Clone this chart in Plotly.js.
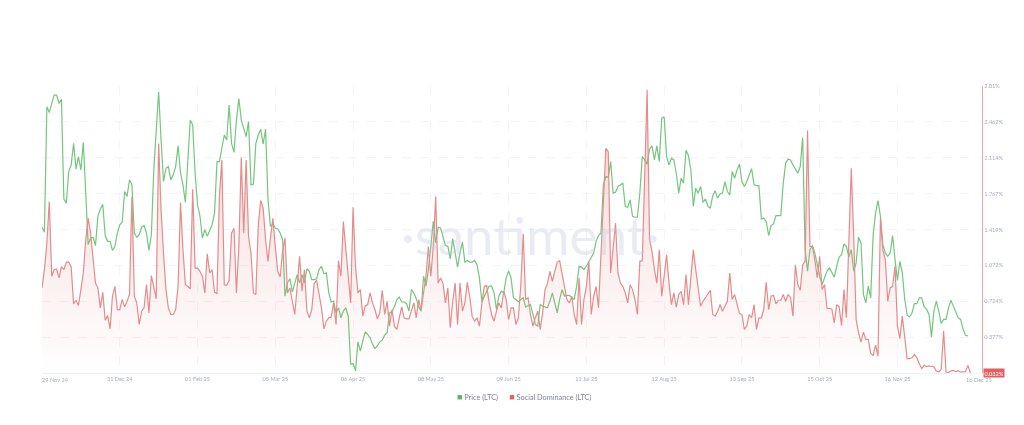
<!DOCTYPE html>
<html><head><meta charset="utf-8">
<script src="https://cdn.plot.ly/plotly-3.0.1.min.js"></script>
<style>html,body{margin:0;padding:0;background:#fff}#c{width:1024px;height:425px;filter:blur(0.6px)}</style>
</head><body><div id="c"></div>
<script>
const startDate = '2024-11-29';
const price = [104.6,103.4,133.6,132.2,134.4,136.4,136.4,134.4,135.4,111.4,110.4,118,119.6,124.8,118.6,121.6,118.4,125,112.8,100.4,102,102.2,100.2,107.2,109,110.1,102.6,101.2,101.2,99,100,103.2,105.2,105.8,113.2,112,116,114.8,103.2,102.2,102.8,104.6,105,103.2,99,102.8,118.4,128,137.2,125.6,115.6,118.8,119.2,116,117.2,119.2,124.2,117.6,114.8,110.6,119.2,130.4,129.2,117.6,110,107.2,102,104,102.4,103.6,105.2,108,120.4,120.4,123.6,126.8,125.6,134,124.8,122.6,130.4,135.6,130.4,128.4,126.4,130,114.8,115,124.8,126.8,128.2,124.6,128.2,111.2,104.8,105.4,104.4,104.2,103.2,101.6,88,91.2,92.2,89,91.2,93.2,91.2,93.2,91.2,94.6,94,92,92,92.2,94.4,95.2,93.4,93.6,88.8,86.6,86.8,84,85.2,
82.8,84.4,85.2,83.2,71.6,71.8,70,77,74.8,77.2,79.4,78.8,78,76.4,75.4,76,77,77.4,78.6,79.2,84,84.3,85.4,87.2,87.8,86.6,86.6,86.2,84.4,89.6,88.8,87.4,85.4,84.4,92.8,90.4,94.4,100,106,100.8,104.6,104.4,102.4,100.2,100,97,101.8,98.8,95,98.4,101,96.2,96.6,96.2,96.2,96.6,95.6,92.4,86.6,88,89.2,90.4,90.4,88.8,84.8,88,89.2,88.8,92.4,94.1,92.4,87.6,87.2,86.6,87.2,87.6,85.4,85.8,86,83.6,81.2,80.8,86,85.6,85.4,85.2,86.8,88.8,86.4,84,87.2,89.6,88,88.2,88.2,87.8,87.2,90.4,95.2,95,94.4,95.2,96.4,97.2,98.4,101.2,102.6,103.2,114.8,116.8,116.6,120.4,112.8,113,114.4,114.8,115.2,109.6,109.4,111.2,107.2,107,107,112.8,121.6,120.8,119.8,123.4,124.2,120.8,124.2,120.4,130.8,131.2,121.6,119.6,121.2,120.8,117.6,112.8,
116.4,115.2,123.2,121.8,118.4,109.6,114,112.8,114.4,110.6,111.4,109.6,109.2,112.2,113.4,111.6,112.6,112.8,115.6,113.2,112.4,118,116.4,118.4,119.8,115.6,114.4,115.6,117.4,118.7,114.8,114.6,114.6,106.6,106.8,106,102.6,105,105.4,107.4,107.4,107.4,115.2,120,121,120.8,119.6,118.6,117.6,119.2,126.2,99.2,94,99.2,100.2,98.4,95.2,92.8,90.8,92.4,94,94.8,93.6,92.6,95.2,97.4,98,100.6,100,97.4,99.2,94,96,102.2,100.8,88.4,86.4,90.4,87.6,102.8,108,111,107.2,100.4,98.4,97.6,98.4,102.6,96.8,91.8,96.4,93.6,87.2,83.4,83,84,86.2,86.2,87.6,87.6,85.4,84.8,83.6,78.2,84.4,86.8,84.4,81.4,82.4,82.4,85.2,87,85.6,84,82.8,82.4,80,78.6,78.4];
const socialDominance = [0.853,1.03,1.288,1.69,0.966,1.03,1.037,0.95,1.06,1.03,1.101,1.104,1.056,0.699,0.734,0.683,0.837,0.998,1.32,1.529,1.384,1.159,0.9,0.853,0.66,0.811,0.541,0.586,0.457,0.773,0.869,0.644,0.644,0.741,0.67,0.724,0.789,1.738,0.773,0.708,0.499,0.628,0.66,0.885,0.612,0.972,0.869,0.747,2.253,1.609,1.191,0.837,0.66,0.596,0.596,0.644,0.869,1.68,1.223,0.885,0.869,0.844,1.809,1.046,1.046,1.014,0.966,0.805,1.185,0.998,1.03,0.811,0.799,1.738,2.092,0.885,0.879,0.927,1.384,1.432,0.805,1.255,2.118,1.384,2.092,1.352,1.191,0.805,0.789,1.465,1.7,1.626,1.32,1.111,1.336,1.529,1.255,1.014,0.959,1.207,1.336,0.805,0.853,0.741,0.596,0.869,1.159,0.821,1.03,0.628,0.564,0.644,0.9,0.927,0.773,0.66,0.457,0.531,0.564,0.57,0.708,0.499,1.117,0.966,
1.497,1.223,0.966,0.708,1.635,1.062,0.805,0.837,0.58,0.676,0.692,0.805,0.708,0.644,0.554,0.612,0.831,0.596,0.724,0.483,0.644,0.483,0.451,0.547,0.67,0.564,0.554,0.554,0.628,0.708,0.564,0.741,0.644,0.821,0.966,1.255,0.966,1.255,1.738,0.9,0.95,0.9,0.708,0.853,0.467,0.724,0.9,0.499,0.9,0.628,0.708,0.908,0.773,0.58,0.531,0.564,0.483,0.708,0.869,0.876,0.708,0.596,0.531,0.628,0.708,0.66,0.821,0.741,0.547,0.66,0.66,0.499,0.564,0.869,1.378,0.741,0.757,0.596,0.483,0.564,0.628,0.451,0.612,0.837,0.9,1.014,0.918,1.014,1.101,1.117,0.998,0.869,0.741,0.708,0.773,0.596,0.499,0.95,0.499,0.741,0.869,1.111,0.596,0.773,0.869,0.66,1.127,1.674,2.205,2.173,0.998,1.239,1.481,0.998,0.9,0.869,0.805,0.708,0.885,0.837,0.741,0.596,1.111,1.117,1.867,2.774,1.32,1.207,1.03,0.9,1.223,0.773,0.966,1.175,0.9,0.692,0.805,0.667,0.789,0.821,
0.692,0.982,0.692,0.966,1.223,1.03,0.837,0.676,0.724,0.757,0.799,0.831,0.596,0.58,0.628,0.692,0.628,0.676,0.724,0.998,0.741,0.789,0.708,0.605,0.596,0.451,0.483,0.596,0.564,0.692,0.451,0.564,0.564,0.644,0.908,0.644,0.773,0.782,0.699,0.734,0.734,0.789,0.724,0.789,0.763,0.58,1.078,0.885,0.831,1.078,1.111,2.382,1.255,1.255,1.127,0.95,1.159,0.837,0.885,0.654,0.654,0.65,0.515,0.692,0.67,0.49,0.837,0.564,1.288,2.012,1.352,0.547,0.419,0.329,0.425,0.354,0.354,0.219,0.2,0.3,0.193,1.529,1.223,1.127,0.724,0.853,0.869,1.062,0.483,0.361,0.58,0.338,0.168,0.168,0.177,0.21,0.177,0.119,0.071,0.103,0.09,0.097,0.097,0.09,0.049,0.039,0.065,0.435,0.039,0.033,0.049,0.055,0.042,0.049,0.039,0.042,0.042,0.103,0.032];
const xTickDates = ['2024-11-29','2024-12-31','2025-02-01','2025-03-05','2025-04-06','2025-05-08','2025-06-09','2025-07-11','2025-08-12','2025-09-13','2025-10-15','2025-11-16'];
const xTickLabels = ['','31 Dec 24','01 Feb 25','05 Mar 25','06 Apr 25','08 May 25','09 Jun 25','11 Jul 25','12 Aug 25','13 Sep 25','15 Oct 25','16 Nov 25'];
const firstLabel = '29 Nov 24', lastLabel = '16 Dec 25';
const yTickVals = [0.377,0.724,1.072,1.419,1.767,2.114,2.462,2.81];
const yTickLabels = ['0.377%','0.724%','1.072%','1.419%','1.767%','2.114%','2.462%','2.81%'];
const lastValueLabel = '0.032%';

function dateAt(i){const d=new Date(Date.UTC(2024,10,29+i));return d.toISOString().slice(0,10);}
const labelColor='#a4adc4', gridColor='#f3f4f6';
const traces=[
 {x:price.map((_,i)=>dateAt(i)),y:price,name:'Price (LTC)',type:'scatter',mode:'lines',yaxis:'y',
  line:{color:'#74c67f',width:1.2},hoverinfo:'skip'},
 {x:socialDominance.map((_,i)=>dateAt(i)),y:socialDominance,name:'Social Dominance (LTC)',type:'scatter',mode:'lines',yaxis:'y2',
  line:{color:'#e48c8c',width:1.2},fill:'tozeroy',
  fillgradient:{type:'vertical',colorscale:[[0,'rgba(226,120,120,0)'],[1,'rgba(226,120,120,0.32)']]},hoverinfo:'skip'}
];
const layout={
 width:1024,height:425,showlegend:false,paper_bgcolor:'#fff',plot_bgcolor:'#fff',
 margin:{l:41.7,r:42.3,t:85.7,b:51.6},
 font:{family:'Lato, "Open Sans", sans-serif',size:5.6,color:labelColor},
 xaxis:{type:'date',range:['2024-11-29','2025-12-20 19:00'],tickmode:'array',tickvals:xTickDates,ticktext:xTickLabels,
  showgrid:true,gridcolor:gridColor,griddash:'dash',gridwidth:1,zeroline:false,showline:true,linecolor:'#f1f2f5',
  ticklen:0,tickfont:{size:5.6,color:labelColor},tickangle:0},
 yaxis:{range:[69.5,138.6],visible:false,showgrid:false,zeroline:false},
 yaxis2:{overlaying:'y',side:'right',range:[0.029,2.81],tickmode:'array',tickvals:yTickVals,ticktext:yTickLabels,
  showgrid:true,gridcolor:gridColor,griddash:'dash',gridwidth:1,zeroline:false,showline:true,linecolor:'#e9a9a9',linewidth:1.2,
  ticklen:0,tickfont:{size:5.6,color:labelColor}},
 annotations:[
  {text:'·santiment·',xref:'paper',yref:'paper',x:(530-41.7)/939.9,y:0.5,yshift:-5,xanchor:'center',yanchor:'middle',showarrow:false,
   font:{family:'Lato, sans-serif',size:53,color:'rgba(190,198,222,0.33)'}},
  {text:firstLabel,xref:'paper',yref:'paper',x:13.5/939.9,y:0,yshift:-6,xanchor:'center',yanchor:'middle',showarrow:false,font:{size:5.6,color:labelColor}},
  {text:lastLabel,xref:'paper',yref:'paper',x:936.6/939.9,y:0,yshift:-6,xanchor:'center',yanchor:'middle',showarrow:false,font:{size:5.6,color:labelColor}},
  {text:lastValueLabel,xref:'paper',yref:'y2',x:1,y:0.032,xshift:1,xanchor:'left',yanchor:'middle',showarrow:false,
   bgcolor:'#e2605f',borderpad:0.5,font:{size:5.6,color:'#fff'}},
  {text:'<span style="color:#55b964;font-size:9px">■</span> Price (LTC)      <span style="color:#e8605f;font-size:9px">■</span> Social Dominance (LTC)',
   xref:'paper',yref:'paper',x:(524-41.7)/939.9,y:0,yshift:-23,xanchor:'center',yanchor:'middle',showarrow:false,font:{size:7.3,color:'#7c849c'}}
 ]
};
Plotly.newPlot('c',traces,layout,{displayModeBar:false,staticPlot:true});
</script></body></html>
